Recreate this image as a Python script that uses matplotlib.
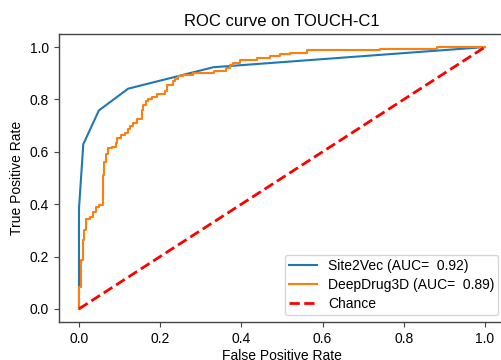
import matplotlib
matplotlib.use('Agg')
import matplotlib.pyplot as plt

plt.rcParams['font.family'] = ['Liberation Sans', 'DejaVu Sans']
plt.rcParams['font.size'] = 10

# Site2Vec ROC points
site2vec_fpr = [0.0, 0.0, 0.0106, 0.049, 0.121, 0.331, 1.0]
site2vec_tpr = [0.0, 0.383, 0.629, 0.758, 0.841, 0.923, 1.0]
site2vec_auc = 0.92

# DeepDrug3D ROC points (step corners)
deepdrug_fpr = [0.0, 0.0049, 0.0091, 0.0131, 0.0172, 0.0271, 0.0337, 0.0419,
                0.0500, 0.0584, 0.0623, 0.0665, 0.0722, 0.0805, 0.0911, 0.0943,
                0.1027, 0.1133, 0.1214, 0.1256, 0.1337, 0.1436, 0.1552, 0.1584,
                0.1650, 0.1707, 0.1791, 0.1914, 0.2126, 0.2175, 0.2308, 0.2365,
                0.2446, 0.2554, 0.2815, 0.3325, 0.3621, 0.3719, 0.3800, 0.3966,
                0.4377, 0.4704, 0.4951, 0.5197, 0.5608, 0.7414, 0.8810, 1.0]
deepdrug_tpr = [0.0, 0.085, 0.186, 0.262, 0.300, 0.344, 0.350, 0.369,
                0.388, 0.398, 0.512, 0.562, 0.591, 0.614, 0.619, 0.635,
                0.654, 0.664, 0.673, 0.686, 0.698, 0.711, 0.724, 0.759,
                0.778, 0.793, 0.800, 0.808, 0.819, 0.831, 0.854, 0.869,
                0.879, 0.888, 0.894, 0.900, 0.909, 0.919, 0.932, 0.941,
                0.949, 0.957, 0.967, 0.972, 0.977, 0.990, 0.994, 1.0]
deepdrug_auc = 0.89

fig = plt.figure(figsize=(5.02, 3.6), dpi=100)
# axes runs slightly past the right edge, like the original crop
ax = fig.add_axes([0.1169, 0.1056, 0.8896, 0.8])

ax.plot(site2vec_fpr, site2vec_tpr, color='#1f77b4', lw=1.5,
        label='Site2Vec (AUC= %5.2f)' % site2vec_auc)
ax.step(deepdrug_fpr, deepdrug_tpr, where='pre', color='#ff7f0e', lw=1.5,
        label='DeepDrug3D (AUC= %5.2f)' % deepdrug_auc)
ax.plot([0, 1], [0, 1], linestyle='--', color='red', lw=2, label='Chance')

ax.set_xlim(-0.05, 1.05)
ax.set_ylim(-0.05, 1.05)
ax.set_xlabel('False Positive Rate', labelpad=2.5)
ax.set_ylabel('True Positive Rate')
ax.set_title('ROC curve on TOUCH-C1', fontsize=12)
ax.legend(loc='lower right', labelspacing=0.35, borderpad=0.3)

for s in ax.spines.values():
    s.set_color('#444444')
    s.set_linewidth(1.0)
ax.tick_params(color='#444444')

fig.savefig('out.png', dpi=100)
